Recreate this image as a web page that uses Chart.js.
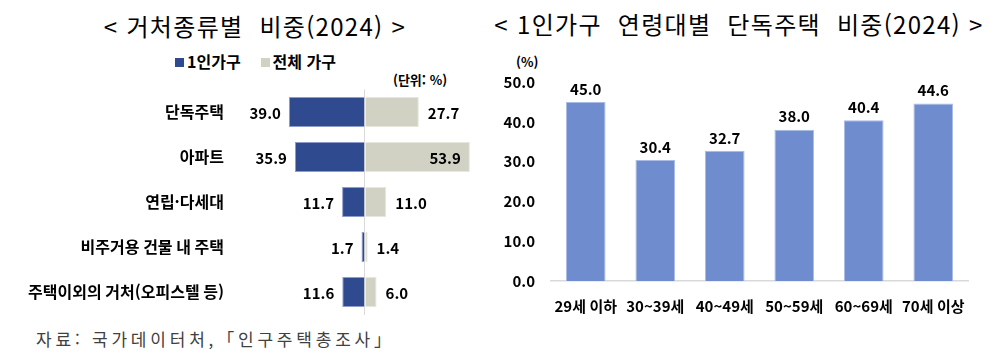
<!DOCTYPE html>
<html lang="ko">
<head>
<meta charset="UTF-8">
<title>거처종류별 비중</title>
<style>
  body { margin: 0; width: 1000px; height: 362px; background: #fff; position: relative; overflow: hidden;
         font-family: 'Noto Sans CJK KR', sans-serif; color: #000; }
  canvas { position: absolute; top: 0; }
  #left { left: 0; }
  #right { left: 500px; }
  .title { position: absolute; font-size: 24px; font-weight: 400; white-space: pre; transform: translateX(-50%); letter-spacing: 1.3px; line-height: 1; }
  .legend { position: absolute; left: 175px; top: 52px; font-size: 16px; font-weight: 700; line-height: 18px; white-space: nowrap; }
  .legend span.box { display: inline-block; width: 9px; height: 9px; margin-right: 3px; vertical-align: 1px; }
  .note { position: absolute; font-size: 13px; font-weight: 700; white-space: nowrap; line-height: 1; }
  .source { position: absolute; left: 36px; top: 330px; font-size: 17px; color: #404040; letter-spacing: 3.8px; white-space: nowrap; line-height: 1; }
</style>
</head>
<body>
<div class="title" style="left:255px; top:14px;">&lt; 거처종류별  비중(2024) &gt;</div>
<div class="title" style="left:739px; top:12px;">&lt; 1인가구  연령대별  단독주택  비중(2024) &gt;</div>
<div class="legend"><span class="box" style="background:#2F4A8F"></span>1인가구<span style="display:inline-block;width:20px"></span><span class="box" style="background:#D1D2C4"></span>전체 가구</div>
<div class="note" style="left:393px; top:73px;">(단위: %)</div>
<div class="note" style="left:516px; top:55px;">(%)</div>
<div class="source">자료: 국가데이터처,「인구주택총조사」</div>

<canvas id="left" width="500" height="362"></canvas>
<canvas id="right" width="500" height="362"></canvas>

<script src="https://cdn.jsdelivr.net/npm/chart.js"></script>
<script>
// 왼쪽: 거처종류별 비중
const housingTypes = ['단독주택', '아파트', '연립·다세대', '비주거용 건물 내 주택', '주택이외의 거처(오피스텔 등)'];
const singleHousehold = [39.0, 35.9, 11.7, 1.7, 11.6];
const allHouseholds = [27.7, 53.9, 11.0, 1.4, 6.0];

// 오른쪽: 1인가구 연령대별 단독주택 비중
const ageGroups = ['29세 이하', '30~39세', '40~49세', '50~59세', '60~69세', '70세 이상'];
const detachedShare = [45.0, 30.4, 32.7, 38.0, 40.4, 44.6];
const yTicks = [0, 10, 20, 30, 40, 50];

Chart.defaults.font.family = "'Noto Sans CJK KR', sans-serif";
Chart.defaults.color = '#000';

// 막대 값 표시
const valueLabels = {
  id: 'valueLabels',
  afterDatasetsDraw(chart) {
    const ctx = chart.ctx;
    const area = chart.chartArea;
    ctx.save();
    ctx.font = "bold 15px 'Noto Sans CJK KR', sans-serif";
    ctx.fillStyle = '#000';
    chart.data.datasets.forEach((ds, di) => {
      const meta = chart.getDatasetMeta(di);
      meta.data.forEach((bar, i) => {
        const txt = ds.raw[i].toFixed(1);
        if (chart.options.indexAxis === 'y') {
          ctx.textBaseline = 'middle';
          if (ds.raw === singleHousehold) {
            ctx.textAlign = 'right';
            ctx.fillText(txt, bar.x - 8, bar.y + 1);
          } else {
            const w = ctx.measureText(txt).width;
            if (bar.x + 9 + w > area.right) {
              ctx.textAlign = 'right';
              ctx.fillText(txt, bar.x - 9, bar.y + 1);
            } else {
              ctx.textAlign = 'left';
              ctx.fillText(txt, bar.x + 9, bar.y + 1);
            }
          }
        } else {
          ctx.textAlign = 'center';
          ctx.textBaseline = 'middle';
          ctx.fillText(txt, bar.x, bar.y - 13);
        }
      });
    });
    ctx.restore();
  }
};

new Chart(document.getElementById('left'), {
  type: 'bar',
  data: {
    labels: housingTypes,
    datasets: [
      {
        label: '1인가구',
        raw: singleHousehold,
        data: singleHousehold.map(v => -v),
        backgroundColor: '#2F4A8F',
        borderColor: '#8C9CCB',
        borderWidth: 1,
        barPercentage: 0.667,
        categoryPercentage: 1
      },
      {
        label: '전체 가구',
        raw: allHouseholds,
        data: allHouseholds,
        backgroundColor: '#D1D2C4',
        borderColor: '#E6E7DD',
        borderWidth: 1,
        barPercentage: 0.667,
        categoryPercentage: 1
      }
    ]
  },
  options: {
    indexAxis: 'y',
    responsive: false,
    animation: false,
    layout: { padding: { top: 89.5, bottom: 47.5, left: 0, right: 28 } },
    plugins: { legend: { display: false }, tooltip: { enabled: false } },
    scales: {
      x: {
        stacked: true,
        min: -60,
        max: 55,
        ticks: { display: false, stepSize: 5 },
        grid: {
          drawTicks: false,
          color: c => (c.tick && c.tick.value === 0 ? '#D9D9D9' : 'rgba(0,0,0,0)')
        },
        border: { display: false }
      },
      y: {
        stacked: true,
        grid: { display: false },
        border: { display: false },
        ticks: { padding: 16, font: { size: 16, weight: 'bold' }, color: '#000' },
        afterFit(scale) { scale.width = 248; }
      }
    }
  },
  plugins: [valueLabels]
});

new Chart(document.getElementById('right'), {
  type: 'bar',
  data: {
    labels: ageGroups,
    datasets: [{
      label: '단독주택 비중',
      raw: detachedShare,
      data: detachedShare,
      backgroundColor: '#6F8DCE',
      borderColor: '#A9BBE6',
      borderWidth: 1,
      barPercentage: 0.57,
      categoryPercentage: 1
    }]
  },
  options: {
    responsive: false,
    animation: false,
    layout: { padding: { top: 82, bottom: 0, left: 0, right: 32 } },
    plugins: { legend: { display: false }, tooltip: { enabled: false } },
    scales: {
      x: {
        grid: { display: false, drawTicks: false },
        border: { display: true, color: '#D9D9D9', width: 1.5 },
        ticks: { padding: 16, font: { size: 15, weight: 'bold' }, color: '#000', maxRotation: 0, autoSkip: false },
        afterFit(scale) { scale.height = 81; }
      },
      y: {
        min: 0,
        max: 50,
        afterBuildTicks(scale) { scale.ticks = yTicks.map(v => ({ value: v })); },
        grid: { display: false, drawTicks: false },
        border: { display: false },
        ticks: { padding: 16, font: { size: 15, weight: 'bold' }, color: '#000', callback: v => v.toFixed(1) },
        afterFit(scale) { scale.width = 51; }
      }
    }
  },
  plugins: [valueLabels]
});
</script>
</body>
</html>
